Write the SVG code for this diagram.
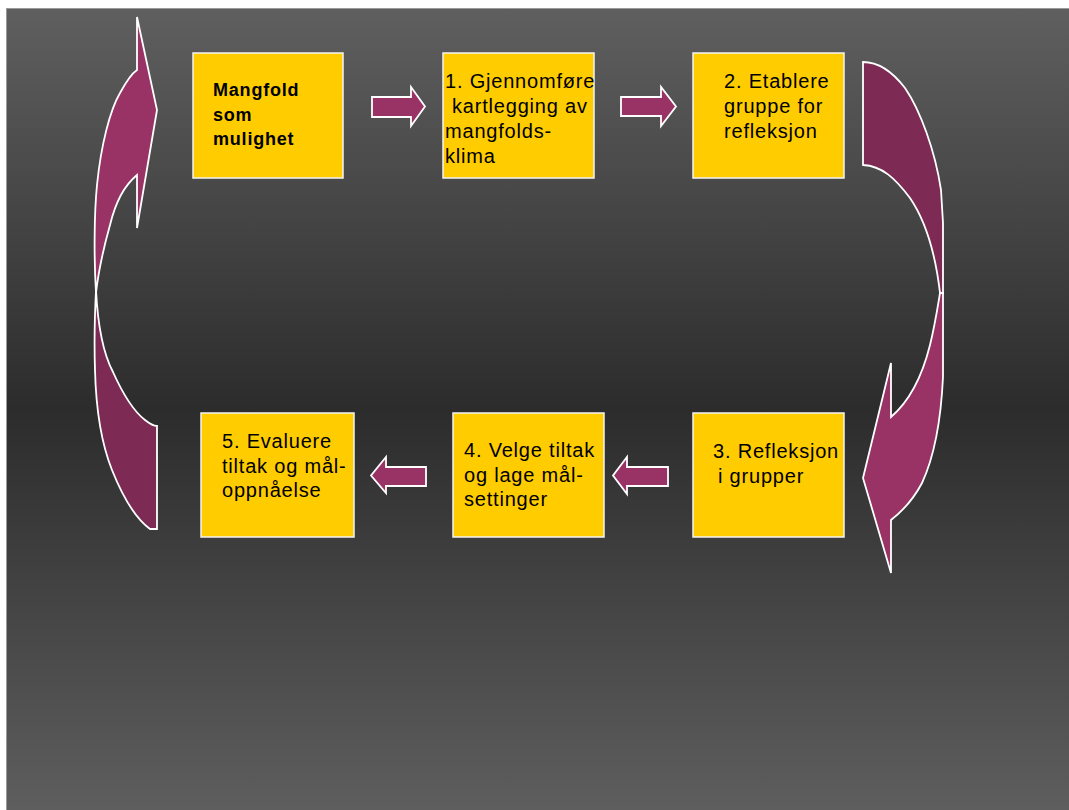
<svg xmlns="http://www.w3.org/2000/svg" width="1069" height="810" viewBox="0 0 1069 810">
<defs>
<linearGradient id="bg" x1="0" y1="0" x2="0" y2="1">
<stop offset="0" stop-color="#5f5f5f"/>
<stop offset="0.5" stop-color="#2c2c2c"/>
<stop offset="1" stop-color="#5e5e5e"/>
</linearGradient>
<style>
.box{fill:#ffcc00;stroke:#f4f4f4;stroke-width:1.5}
.t{font-family:"Liberation Sans",Arial,sans-serif;font-size:20px;letter-spacing:0.8px;fill:#000}
.b{font-family:"Liberation Sans",Arial,sans-serif;font-size:18px;font-weight:bold;letter-spacing:0.8px;fill:#000}
.ar{fill:#993366;stroke:#fff;stroke-width:1.8;stroke-linejoin:miter}
.dk{fill:#7d2a55;stroke:#fff;stroke-width:1.8}
</style>
</defs>
<rect x="0" y="0" width="1069" height="810" fill="#ffffff"/>
<rect x="6.5" y="8.5" width="1063" height="802" fill="url(#bg)" stroke="#9a9a9a" stroke-width="1"/>

<g id="connectors">
<path class="ar" d="M372,97 L411,97 L411,87 L425,106.5 L411,126 L411,117 L372,117 Z"/>
<path class="ar" d="M621,97 L661,97 L661,87 L676,106.5 L661,126 L661,116 L621,116 Z"/>
<path class="ar" d="M668,467 L627,467 L627,457 L613,475.5 L627,494 L627,486 L668,486 Z"/>
<path class="ar" d="M426,467 L386,467 L386,457 L371,475.5 L386,493 L386,486 L426,486 Z"/>
<path class="dk" d="M96,290 C98,330 104,355 113,372 C122,392 132,410 145,420 C150,424 153,426 157,426 L157,529 L150,529 C135,518 122,495 112,470 C102,445 96,410 95,370 C94,340 95,310 96,290 Z"/>
<path class="ar" d="M137,17 L157,110 L137,228 L137,175 C126,184 116,200 110,225 C103,250 98,275 96,293 C94,260 94,215 97,185 C101,145 110,110 120,93 C126,82 131,74 137,70 Z"/>
<path class="dk" d="M863,62 C880,62 895,75 905,88 C920,110 935,150 941,190 L943,223 L943,293 L940,293 C935,250 925,220 910,198 C895,178 882,166 863,165 Z"/>
<path class="ar" d="M940,293 L943,293 L943,377 C941,420 935,455 922,483 C912,502 900,513 891,520 L891,573 L863,478 L891,363 L891,417 C905,405 920,385 930,345 C935,325 938,305 940,293 Z"/>
</g>

<g id="node0">
<rect class="box" x="193" y="53" width="150" height="125"/>
<text class="b" x="213" y="96">Mangfold</text>
<text class="b" x="213" y="121">som</text>
<text class="b" x="213" y="145">mulighet</text>
</g>
<g id="node1">
<rect class="box" x="443" y="53" width="151" height="125"/>
<text class="t" x="445" y="88">1. Gjennomføre</text>
<text class="t" x="452" y="113">kartlegging av</text>
<text class="t" x="445" y="138">mangfolds-</text>
<text class="t" x="445" y="163">klima</text>
</g>
<g id="node2">
<rect class="box" x="693" y="53" width="151" height="125"/>
<text class="t" x="724" y="88">2. Etablere</text>
<text class="t" x="724" y="113">gruppe for</text>
<text class="t" x="724" y="138">refleksjon</text>
</g>
<g id="node3">
<rect class="box" x="693" y="413" width="151" height="124"/>
<text class="t" x="713" y="458">3. Refleksjon</text>
<text class="t" x="718" y="483">i grupper</text>
</g>
<g id="node4">
<rect class="box" x="453" y="413" width="151" height="124"/>
<text class="t" x="464" y="457">4. Velge tiltak</text>
<text class="t" x="464" y="482">og lage mål-</text>
<text class="t" x="464" y="506">settinger</text>
</g>
<g id="node5">
<rect class="box" x="201" y="413" width="153" height="124"/>
<text class="t" x="222" y="448">5. Evaluere</text>
<text class="t" x="222" y="473">tiltak og mål-</text>
<text class="t" x="222" y="497">oppnåelse</text>
</g>
</svg>
